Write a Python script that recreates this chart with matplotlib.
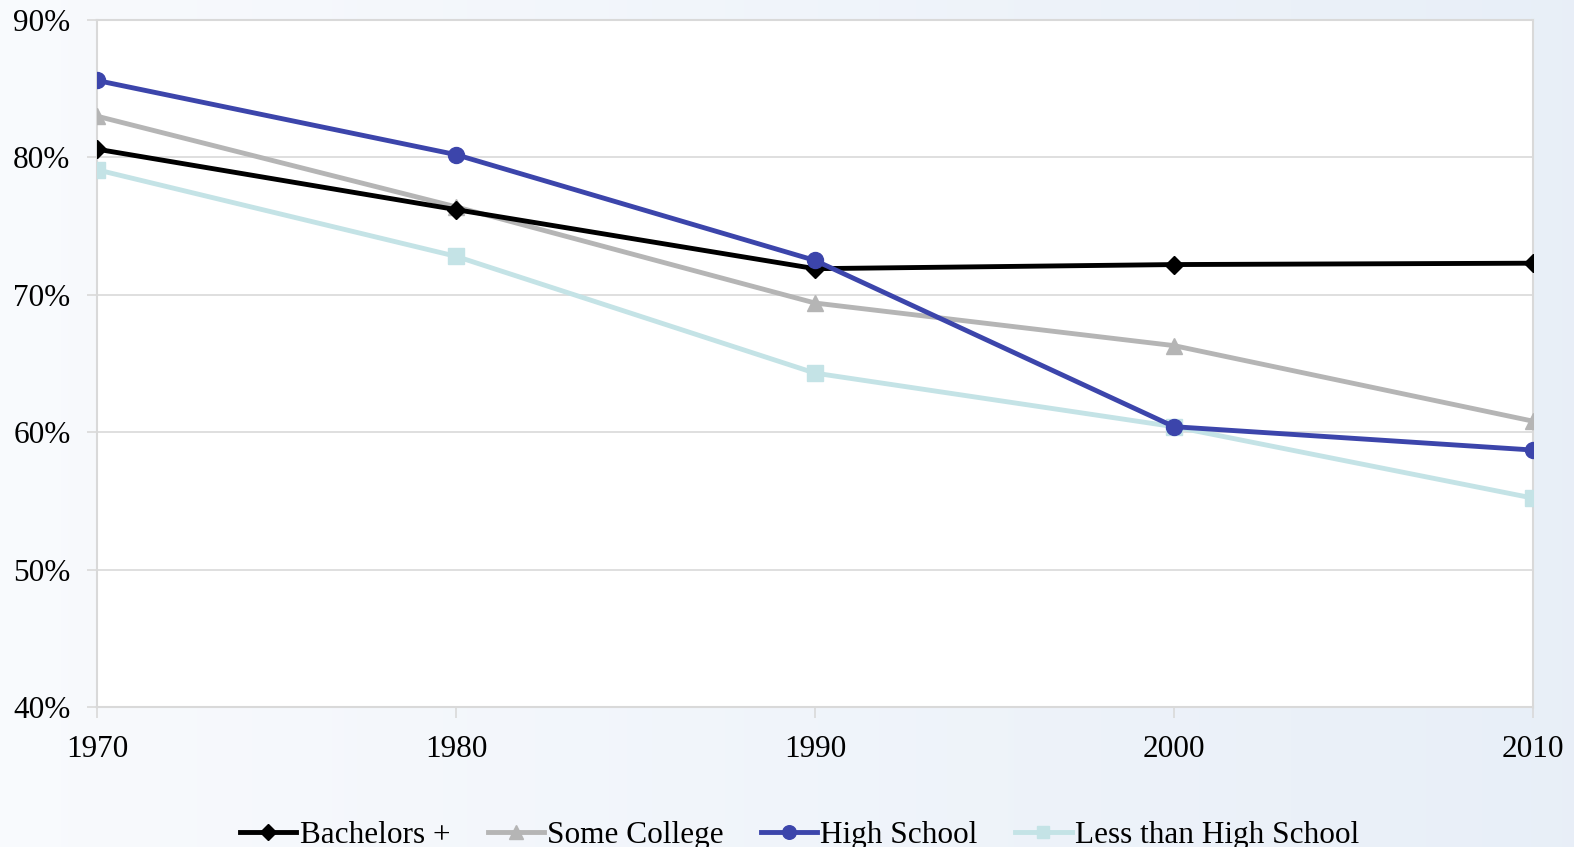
import numpy as np
import matplotlib
matplotlib.use("Agg")
import matplotlib.pyplot as plt
from matplotlib.ticker import FuncFormatter

plt.rcParams['font.family'] = ['Liberation Serif', 'DejaVu Serif']

years = [1970, 1980, 1990, 2000, 2010]
bachelors = [80.6, 76.2, 71.9, 72.2, 72.3]
some_college = [83.0, 76.4, 69.4, 66.3, 60.8]
high_school = [85.6, 80.2, 72.5, 60.4, 58.7]
less_than_hs = [79.1, 72.8, 64.3, 60.4, 55.2]

fig = plt.figure(figsize=(15.74, 8.47), dpi=100)

# background gradient, white-ish on the left to pale blue on the right
bg = fig.add_axes([0, 0, 1, 1], zorder=-10)
c0 = np.array([0.975, 0.982, 0.993])
c1 = np.array([0.910, 0.937, 0.972])
t = np.linspace(0, 1, 256)[None, :, None]
grad = c0 + (c1 - c0) * t
bg.imshow(np.repeat(grad, 2, axis=0), aspect='auto', extent=[0, 1, 0, 1])
bg.axis('off')

ax = fig.add_axes([0.0616, 0.1653, 0.9124, 0.8111])
ax.set_facecolor('white')

lw = 3.5
ax.plot(years, less_than_hs, color='#c4e3e6', lw=lw, marker='s', ms=11, label='Less than High School', zorder=3)
ax.plot(years, some_college, color='#b5b5b5', lw=lw, marker='^', ms=12, label='Some College', zorder=4)
ax.plot(years, bachelors, color='black', lw=lw, marker='D', ms=9, label='Bachelors +', zorder=5)
ax.plot(years, high_school, color='#3c45ab', lw=lw, marker='o', ms=11.5, label='High School', zorder=6)

ax.set_xlim(1970, 2010)
ax.set_ylim(40, 90)
ax.set_xticks(years)
ax.set_yticks(np.arange(40, 91, 10))
ax.yaxis.set_major_formatter(FuncFormatter(lambda v, p: f"{v:.0f}%"))
ax.grid(axis='y', color='#d9d9d9', lw=1.2, zorder=0)
ax.grid(axis='x', visible=False)
for s in ax.spines.values():
    s.set_color('#d9d9d9')
    s.set_linewidth(1.5)
ax.tick_params(axis='y', length=7, width=1.2, color='#d9d9d9', pad=12, labelsize=22.5)
ax.tick_params(axis='x', length=8, width=1.2, color='#d9d9d9', pad=12, labelsize=22.5)

h, l = ax.get_legend_handles_labels()
order = ['Bachelors +', 'Some College', 'High School', 'Less than High School']
hh = [h[l.index(o)] for o in order]
fig.legend(hh, order, loc='center', bbox_to_anchor=(0.508, 0.014), ncol=4, frameon=False,
           fontsize=22.5, handlelength=1.8, handletextpad=0.1, columnspacing=1.2, markerscale=0.85)

fig.savefig('out.png', dpi=100)
